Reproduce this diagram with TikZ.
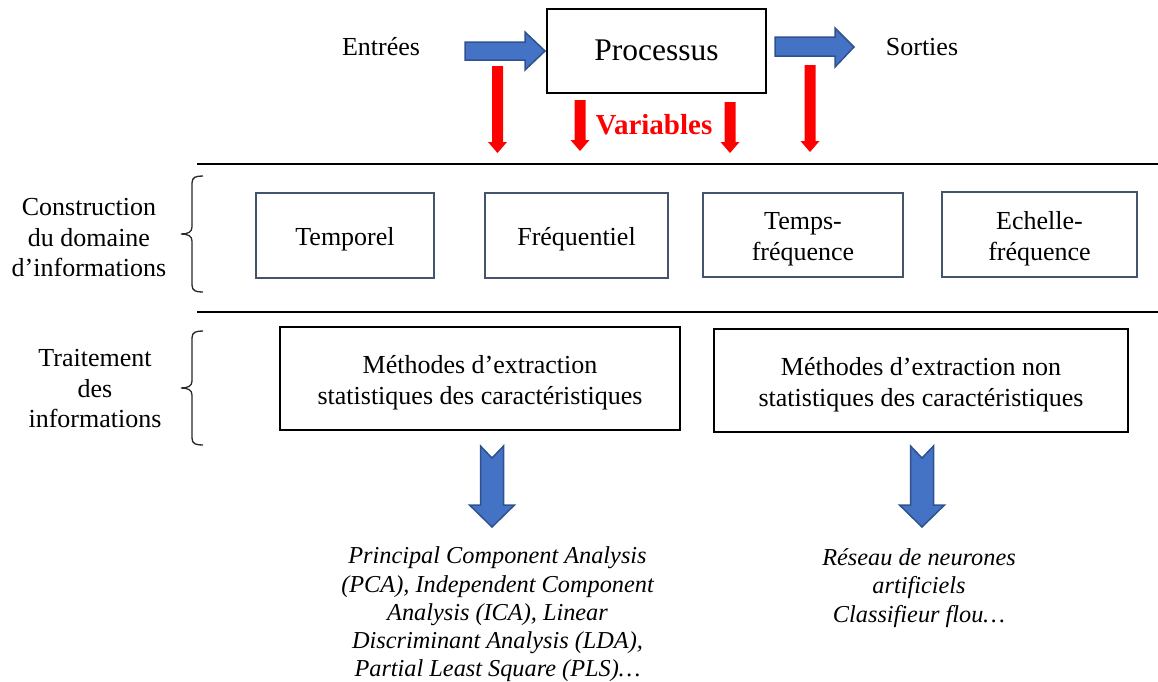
\documentclass[tikz,border=0pt]{standalone}
\usepackage{fontspec}
\setmainfont{Liberation Serif}
\definecolor{slate}{RGB}{68,84,106}
\definecolor{arrowblue}{RGB}{68,114,196}
\definecolor{arrowedge}{RGB}{47,82,143}
\definecolor{bracegray}{RGB}{40,40,40}
\newcommand\rdarrow[3]{\fill[redarrow] (#1-5.5,#2) -- (#1+5.5,#2) -- (#1+5.5,#3-11) -- (#1+9.5,#3-11) -- (#1,#3) -- (#1-9.5,#3-11) -- (#1-5.5,#3-11) -- cycle;}
\newcommand\bdarrow[1]{\filldraw[bluearrow] (#1-11.5,446) -- (#1,458) -- (#1+11.5,446) -- (#1+11.5,505) -- (#1+22.5,505) -- (#1,527) -- (#1-22.5,505) -- (#1-11.5,505) -- cycle;}
\newcommand\mybrace[3]{\draw[bracestyle] (203,#1) .. controls (196,#1) and (192,#1+1) .. (192,#1+7) -- (192,#2-7) .. controls (192,#2-2) and (188,#2) .. (181,#2) .. controls (188,#2) and (192,#2+2) .. (192,#2+7) -- (192,#3-7) .. controls (192,#3-1) and (196,#3) .. (203,#3);}
\begin{document}
\begin{tikzpicture}[x=1pt,y=-1pt,
  slatebox/.style={draw=slate, line width=2pt, inner sep=0pt},
  blackbox/.style={draw=black, line width=2pt, inner sep=0pt},
  lbl/.style={align=center, inner sep=0pt, font=\fontsize{26}{30.5}\selectfont},
  boxtext/.style={lbl, yshift=-4pt},
  itl/.style={align=center, inner sep=0pt, font=\fontsize{24.3}{28.2}\selectfont\itshape},
  bluearrow/.style={fill=arrowblue, draw=arrowedge, line width=1.5pt, line join=miter},
  redarrow/.style={fill=red},
  rulestyle/.style={line width=2.5pt},
  bracestyle/.style={draw=bracegray, line width=1.3pt}]
\useasboundingbox (0,0) rectangle (1158,681);

% top row
\node[lbl] (in) at (381,47) {Entrées};
\node[lbl] (out) at (922,47) {Sorties};
\node[blackbox, minimum width=219pt, minimum height=84pt, font=\fontsize{31.5}{36}\selectfont] (proc) at (656.5,50.5) {Processus};
\filldraw[bluearrow] (465,42) -- (525,42) -- (525,32) -- (545,51) -- (525,70) -- (525,60) -- (465,60) -- cycle;
\filldraw[bluearrow] (775,37) -- (835,37) -- (835,28) -- (854,47) -- (835,67) -- (835,56) -- (775,56) -- cycle;

% red arrows
\rdarrow{497.5}{66}{153}
\rdarrow{580}{100}{151}
\rdarrow{730}{102}{153}
\rdarrow{810}{65}{152}
\node[anchor=base, inner sep=0pt, text=red, font=\fontsize{29}{34}\selectfont\bfseries] (var) at (654,134) {Variables};

% rules
\draw[rulestyle] (197,164) -- (1158,164);
\draw[rulestyle] (197,312) -- (1158,312);

% braces and left labels
\mybrace{176}{234}{292}
\mybrace{331}{388}{445}
\node[lbl] (cons) at (89,238) {Construction\\du domaine\\d’informations};
\node[lbl] (trait) at (95,389) {Traitement\\des\\informations};

% domain boxes
\node[slatebox, minimum width=178pt, minimum height=85pt, label={[boxtext]center:Temporel}] (temp) at (345,235.5) {};
\node[slatebox, minimum width=183pt, minimum height=85pt, label={[boxtext]center:Fréquentiel}] (freq) at (576.5,235.5) {};
\node[slatebox, minimum width=200pt, minimum height=84pt, label={[boxtext]center:{Temps-\\fréquence}}] (tf) at (803,235) {};
\node[slatebox, minimum width=195pt, minimum height=85pt, label={[boxtext]center:{Echelle-\\fréquence}}] (ef) at (1039.5,234.5) {};

% methods boxes
\node[blackbox, minimum width=400pt, minimum height=103pt, label={[boxtext]center:{Méthodes d’extraction\\statistiques des caractéristiques}}] (stat) at (480,378.5) {};
\node[blackbox, minimum width=414pt, minimum height=103pt, label={[boxtext]center:{Méthodes d’extraction non\\statistiques des caractéristiques}}] (nstat) at (921,380.5) {};

% blue down arrows
\bdarrow{492}
\bdarrow{922}

% results
\node[itl] (res1) at (497.5,614.5) {Principal Component Analysis\\(PCA), Independent Component\\Analysis (ICA), Linear\\Discriminant Analysis (LDA),\\Partial Least Square (PLS)…};
\node[itl] (res2) at (919,588) {Réseau de neurones\\artificiels\\Classifieur flou…};
\end{tikzpicture}
\end{document}
